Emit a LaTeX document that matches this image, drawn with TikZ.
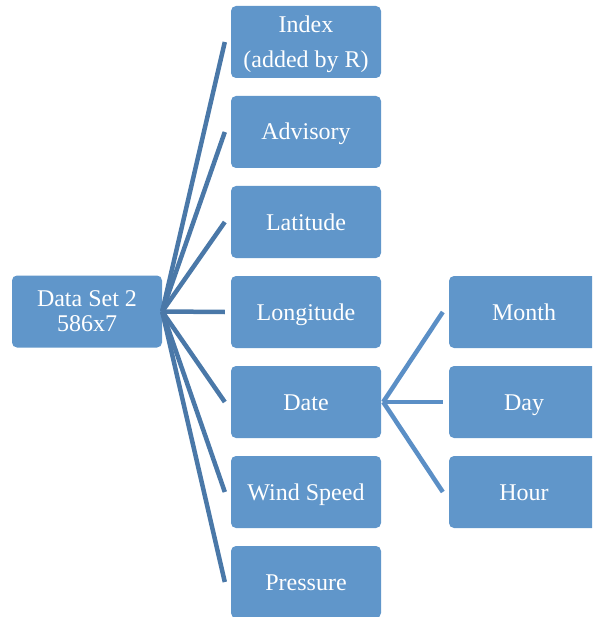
\documentclass[tikz,border=0pt]{standalone}
\usepackage{fontspec}
\setmainfont{Liberation Serif}
\definecolor{boxfill}{RGB}{96,150,202}
\definecolor{linkA}{RGB}{74,120,168}
\definecolor{linkB}{RGB}{91,143,198}
\tikzset{
  item/.style={draw=none, fill=boxfill, rounded corners=5pt, minimum width=150pt,
    minimum height=72pt, inner sep=0pt, text=white, align=center,
    font=\fontsize{24}{25}\selectfont},
  oneline/.style={item, text height=16pt, text depth=0pt},
  label/.style={text=white, font=\fontsize{24}{25}\selectfont, align=center, inner sep=0pt},
  linkone/.style={draw=linkA, line width=4.5pt},
  linktwo/.style={draw=linkB, line width=4.5pt}
}
\begin{document}
\begin{tikzpicture}[x=1pt,y=-1pt]
\useasboundingbox (0,0) rectangle (592,617);
\clip (0,0) rectangle (592,617);
% root
\node[item] (root) at (87,311.5) {Data Set 2\\586x7};
% first level
\node[item] (idx) at (306,42) {};
\node[label] (idxtext) at (306,44) {Index\\[10pt](added by R)};
\node[oneline] (adv) at (306,132) {Advisory};
\node[oneline] (lat) at (306,222) {Latitude};
\node[oneline] (lon) at (306,312) {Longitude};
\node[oneline] (dat) at (306,402) {Date};
\node[oneline] (wnd) at (306,492) {Wind Speed};
\node[oneline] (prs) at (306,582) {Pressure};
% second level (under Date)
\node[oneline] (mon) at (524,312) {Month};
\node[oneline] (day) at (524,402) {Day};
\node[oneline] (hr)  at (524,492) {Hour};
% connectors
\foreach \c in {idx,adv,lat,lon,dat,wnd,prs}
  \draw[linkone] (root.east) -- ([xshift=-6pt]\c.west);
\foreach \c in {mon,day,hr}
  \draw[linktwo] ([xshift=2pt]dat.east) -- ([xshift=-6pt]\c.west);
\end{tikzpicture}
\end{document}
